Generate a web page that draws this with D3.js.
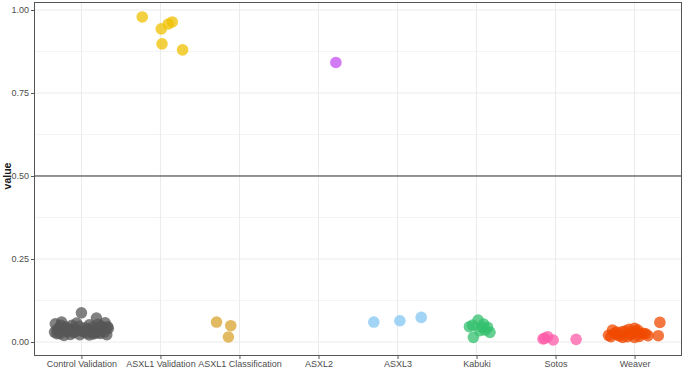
<!DOCTYPE html>
<html lang="en">
  <head>
    <meta charset="utf-8" />
    <title>value by group</title>
    <script src="https://d3js.org/d3.v7.min.js"></script>
    <style type="text/css">
      body { margin: 0; background: white; }
      text { font-family: "Liberation Sans", Arial, sans-serif; }
      .tick text { font-size: 9px; fill: #4d4d4d; }
      .ylab { font-size: 10.5px; font-weight: bold; fill: #1a1a1a; }
    </style>
  </head>
  <body>
    <script type="text/javascript">
      const w = 685;
      const h = 369;

      // categories and colours
      const groups = ["Control Validation", "ASXL1 Validation", "ASXL1 Classification",
        "ASXL2", "ASXL3", "Kabuki", "Sotos", "Weaver"];
      const colors = ["#575757", "#EFC000", "#D8A32C", "#C24FF2",
        "#82C6F2", "#33C06E", "#FF5CAA", "#F04A00"];

      const yTicks = [0, 0.25, 0.5, 0.75, 1];
      const yTickLabels = ["0.00", "0.25", "0.50", "0.75", "1.00"];
      const threshold = 0.5;

      // per group: values and jitter offsets (fraction of a category step)
      const controlValues = [0.088, 0.072, 0.060, 0.058, 0.055, 0.052, 0.050, 0.048, 0.047, 0.046,
        0.045, 0.044, 0.043, 0.042, 0.041, 0.040, 0.040, 0.039, 0.038, 0.037,
        0.036, 0.035, 0.035, 0.034, 0.033, 0.032, 0.031, 0.030, 0.030, 0.029,
        0.028, 0.027, 0.026, 0.025, 0.024, 0.023, 0.022, 0.022, 0.021, 0.020,
        0.050, 0.044, 0.038, 0.033, 0.027, 0.057, 0.041, 0.025, 0.053, 0.031];
      const controlJitter = [0.00, 0.19, -0.25, 0.30, -0.33, 0.10, -0.12, 0.25, -0.03, 0.33,
        -0.20, 0.14, -0.28, 0.05, 0.22, -0.08, 0.31, -0.16, 0.08, -0.31,
        0.17, -0.24, 0.27, -0.05, 0.12, -0.19, 0.02, 0.29, -0.34, 0.20,
        -0.10, 0.07, 0.24, -0.27, 0.15, -0.14, 0.32, -0.02, 0.10, -0.22,
        -0.26, 0.26, -0.15, 0.04, 0.18, -0.06, 0.34, -0.31, 0.21, -0.09];
      const asxl1ValValues = [0.979, 0.943, 0.958, 0.964, 0.898, 0.880];
      const asxl1ValJitter = [-0.23, 0.01, 0.10, 0.15, 0.02, 0.28];
      const asxl1ClsValues = [0.060, 0.049, 0.015];
      const asxl1ClsJitter = [-0.29, -0.11, -0.14];
      const asxl2Values = [0.842];
      const asxl2Jitter = [0.22];
      const asxl3Values = [0.060, 0.064, 0.074];
      const asxl3Jitter = [-0.30, 0.03, 0.30];
      const kabukiValues = [0.051, 0.066, 0.054, 0.044, 0.029, 0.014, 0.046, 0.034, 0.036, 0.045];
      const kabukiJitter = [-0.05, 0.02, 0.09, 0.14, 0.17, -0.04, -0.09, 0.04, 0.11, 0.07];
      const sotosValues = [0.011, 0.016, 0.006, 0.009, 0.008];
      const sotosJitter = [-0.14, -0.10, -0.03, -0.16, 0.26];
      const weaverValues = [0.036, 0.016, 0.021, 0.031, 0.014, 0.016, 0.041, 0.031, 0.014, 0.026,
        0.019, 0.019, 0.059, 0.026, 0.033, 0.022, 0.018, 0.028, 0.036, 0.024,
        0.020, 0.030, 0.017, 0.025, 0.038];
      const weaverJitter = [-0.28, -0.30, -0.21, -0.16, -0.15, -0.09, 0.00, 0.02, 0.00, 0.11,
        0.17, 0.30, 0.32, -0.25, -0.12, -0.05, -0.19, -0.03, 0.04, 0.07,
        -0.33, -0.23, 0.06, 0.14, -0.07];

      const valuesByGroup = [controlValues, asxl1ValValues, asxl1ClsValues, asxl2Values,
        asxl3Values, kabukiValues, sotosValues, weaverValues];
      const jitterByGroup = [controlJitter, asxl1ValJitter, asxl1ClsJitter, asxl2Jitter,
        asxl3Jitter, kabukiJitter, sotosJitter, weaverJitter];

      const points = [];
      groups.forEach(function (g, i) {
        valuesByGroup[i].forEach(function (v, j) {
          points.push({ group: g, value: v, jitter: jitterByGroup[i][j], color: colors[i] });
        });
      });

      // panel
      const margin = { left: 34, right: 3, top: 2, bottom: 13 };
      const panelBottom = h - margin.bottom;

      const x = d3.scalePoint()
        .domain(groups)
        .range([margin.left, w - margin.right])
        .padding(0.6);
      const step = x.step();

      const y = d3.scaleLinear()
        .domain([-0.0422, 1.0241])
        .range([panelBottom, margin.top]);

      const svg = d3.select("body").append("svg")
        .attr("width", w)
        .attr("height", h);

      // minor grid
      const minor = [0.125, 0.375, 0.625, 0.875];
      svg.append("g").selectAll("line").data(minor).enter().append("line")
        .attr("x1", margin.left).attr("x2", w - margin.right)
        .attr("y1", function (d) { return y(d); })
        .attr("y2", function (d) { return y(d); })
        .attr("stroke", "#f4f4f4").attr("stroke-width", 1);

      // major grid
      svg.append("g").selectAll("line").data(yTicks).enter().append("line")
        .attr("x1", margin.left).attr("x2", w - margin.right)
        .attr("y1", function (d) { return y(d); })
        .attr("y2", function (d) { return y(d); })
        .attr("stroke", "#ebebeb").attr("stroke-width", 1);
      svg.append("g").selectAll("line").data(groups).enter().append("line")
        .attr("x1", function (d) { return x(d); })
        .attr("x2", function (d) { return x(d); })
        .attr("y1", margin.top).attr("y2", panelBottom)
        .attr("stroke", "#ebebeb").attr("stroke-width", 1);

      // threshold line
      svg.append("line")
        .attr("x1", margin.left).attr("x2", w - margin.right)
        .attr("y1", y(threshold)).attr("y2", y(threshold))
        .attr("stroke", "#333").attr("stroke-width", 1);

      // points
      svg.append("g").selectAll("circle").data(points).enter().append("circle")
        .attr("cx", function (d) { return x(d.group) + d.jitter * step; })
        .attr("cy", function (d) { return y(d.value); })
        .attr("r", 5.8)
        .attr("fill", function (d) { return d.color; })
        .attr("fill-opacity", 0.75);

      // panel border
      svg.append("rect")
        .attr("x", margin.left + 0.5).attr("y", margin.top + 0.5)
        .attr("width", w - margin.left - margin.right - 1)
        .attr("height", panelBottom - margin.top - 1)
        .attr("fill", "none").attr("stroke", "#555").attr("stroke-width", 1);

      // axes
      const yAxis = d3.axisLeft(y)
        .tickValues(yTicks)
        .tickFormat(function (d, i) { return yTickLabels[i]; })
        .tickSize(3).tickPadding(2);
      const gy = svg.append("g")
        .attr("transform", "translate(" + margin.left + ",0)")
        .call(yAxis);
      gy.select(".domain").remove();
      gy.selectAll(".tick line").attr("stroke", "#555");

      const xAxis = d3.axisBottom(x).tickSize(3).tickPadding(2);
      const gx = svg.append("g")
        .attr("transform", "translate(0," + panelBottom + ")")
        .call(xAxis);
      gx.select(".domain").remove();
      gx.selectAll(".tick line").attr("stroke", "#555");

      svg.append("text")
        .attr("class", "ylab")
        .attr("transform", "translate(11," + y(threshold) + ") rotate(-90)")
        .attr("text-anchor", "middle")
        .text("value");
    </script>
  </body>
</html>
